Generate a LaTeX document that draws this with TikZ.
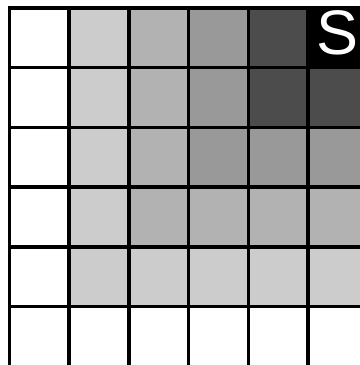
\documentclass[tikz,border=0pt]{standalone}
\usepackage{fontspec}
\setsansfont{Liberation Sans}
\usetikzlibrary{calc}

\begin{document}
\begin{tikzpicture}[line width=1.7pt, line cap=rect]
            \useasboundingbox (-0.16, 0.02) rectangle (5.87, 6.134);

            % shades, row by row from the top: column/row/percent of black
            \foreach \c/\r/\k in {1/0/20, 2/0/30, 3/0/40, 4/0/70, 5/0/100,
                                  1/1/20, 2/1/30, 3/1/40, 4/1/70, 5/1/70,
                                  1/2/20, 2/2/30, 3/2/40, 4/2/40, 5/2/40,
                                  1/3/20, 2/3/30, 3/3/30, 4/3/30, 5/3/30,
                                  1/4/20, 2/4/20, 3/4/20, 4/4/20, 5/4/20}
                \fill[black!\k] (\c, 5-\r) rectangle ++(1, 1);

            \foreach \x in {0,...,5}
                \draw (\x, 6) -- (\x, -0.2);
            \foreach \y in {1,...,6}
                \draw (0, \y) -- (6.2, \y);

            \node[white, font=\sffamily\fontsize{30}{30}\selectfont] (start) at (5.49, 5.59) {S};
        \end{tikzpicture}
\end{document}
